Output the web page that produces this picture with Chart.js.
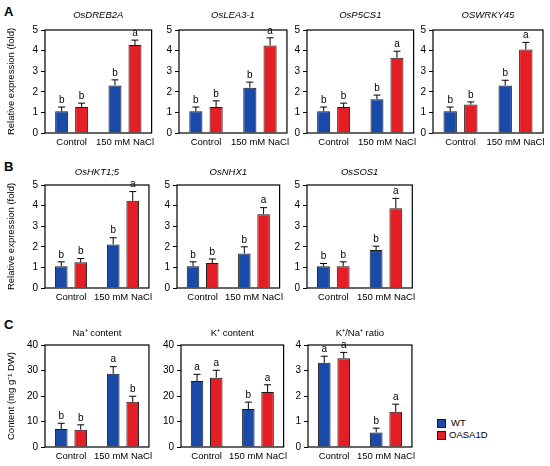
<!DOCTYPE html>
<html><head><meta charset="utf-8">
<script src="https://cdn.jsdelivr.net/npm/chart.js@4"></script>
<style>
body{margin:0;background:#fff;width:550px;height:466px;overflow:hidden;position:relative;font-family:"Liberation Sans",Arial,sans-serif;color:#000}
.cw{position:absolute}
.pl{position:absolute;font-weight:bold;font-size:13px;line-height:13px}
.lg{position:absolute;font-size:9.5px;line-height:10px;white-space:nowrap}
.sw{position:absolute;width:7px;height:7px;border:1px solid #1a1a1a}
</style></head><body>
<div class="pl" style="left:4px;top:5px">A</div>
<div class="pl" style="left:4px;top:160px">B</div>
<div class="pl" style="left:4px;top:318px">C</div>
<div class="sw" style="left:437px;top:419px;background:#1a4aa8"></div>
<div class="lg" style="left:451px;top:418px">WT</div>
<div class="sw" style="left:437px;top:431px;background:#e31e24"></div>
<div class="lg" style="left:449px;top:430px">OASA1D</div>
<script>
const categories = ["Control", "150 mM NaCl"];
const seriesNames = ["WT", "OASA1D"];

// Panel A
const titlesA = ["OsDREB2A", "OsLEA3-1", "OsP5CS1", "OSWRKY45"];
const wtA    = [[1.05, 2.31], [1.05, 2.20], [1.05, 1.64], [1.05, 2.31]];
const wtErrA = [[0.21, 0.27], [0.21, 0.27], [0.21, 0.20], [0.21, 0.25]];
const oxA    = [[1.26, 4.27], [1.26, 4.25], [1.26, 3.65], [1.38, 4.05]];
const oxErrA = [[0.19, 0.24], [0.30, 0.37], [0.19, 0.32], [0.13, 0.35]];
const wtLetA = [["b", "b"], ["b", "b"], ["b", "b"], ["b", "b"]];
const oxLetA = [["b", "a"], ["b", "a"], ["b", "a"], ["b", "a"]];

// Panel B
const titlesB = ["OsHKT1;5", "OsNHX1", "OsSOS1"];
const wtB    = [[1.06, 2.11], [1.06, 1.68], [1.06, 1.84]];
const wtErrB = [[0.21, 0.33], [0.21, 0.32], [0.13, 0.19]];
const oxB    = [[1.25, 4.23], [1.21, 3.58], [1.06, 3.87]];
const oxErrB = [[0.18, 0.45], [0.20, 0.32], [0.21, 0.48]];
const wtLetB = [["b", "b"], ["b", "b"], ["b", "b"]];
const oxLetB = [["b", "a"], ["b", "a"], ["b", "a"]];

// Panel C
const titlesC = ["Na\u207A content", "K\u207A content", "K\u207A/Na\u207A ratio"];
const wtC    = [[7.1, 28.7], [25.9, 14.9], [3.30, 0.57]];
const wtErrC = [[2.2, 2.8], [2.6, 2.7], [0.26, 0.17]];
const oxC    = [[6.8, 17.7], [27.2, 21.6], [3.48, 1.38]];
const oxErrC = [[1.9, 2.2], [2.9, 2.8], [0.23, 0.30]];
const wtLetC = [["b", "a"], ["a", "b"], ["a", "b"]];
const oxLetC = [["b", "b"], ["a", "a"], ["a", "a"]];
const yMaxC  = [40, 40, 4];
const yStepC = [10, 10, 1];

const yTitleAB = "Relative expression (fold)";
const yTitleC  = "Content (mg g\u207B\u00B9 DW)";

// Layout (not data)
const boxesA = [[45,152],[179,287],[307,414],[433,543]];
const boxesB = [[45,150],[177,281],[307,413]];
const boxesC = [[45,150],[181,285],[308,413]];
const rowA = [30,133], rowB = [185,288], rowC = [345,447];

const BLUE = "#1a4aa8", RED = "#e31e24";
const FAM = "'Liberation Sans', Arial, sans-serif";

const framePlugin = {
  id: "frameErr",
  afterDatasetsDraw(chart) {
    const ctx = chart.ctx, ys = chart.scales.y;
    ctx.save();
    chart.data.datasets.forEach((ds, i) => {
      const meta = chart.getDatasetMeta(i);
      meta.data.forEach((el, j) => {
        const v = ds.data[j], e = ds.err[j];
        const yt = ys.getPixelForValue(v + e);
        ctx.strokeStyle = "#000"; ctx.lineWidth = 1;
        ctx.beginPath();
        ctx.moveTo(el.x, el.y); ctx.lineTo(el.x, yt);
        ctx.moveTo(el.x - 3.5, yt); ctx.lineTo(el.x + 3.5, yt);
        ctx.stroke();
        ctx.fillStyle = "#000";
        ctx.font = "10px " + FAM;
        ctx.textAlign = "center"; ctx.textBaseline = "bottom";
        ctx.fillText(ds.letters[j], el.x, yt - 2);
      });
    });
    ctx.restore();
  },
  afterDraw(chart) {
    const ctx = chart.ctx, a = chart.chartArea;
    const o = chart.options.plugins.frameErr;
    ctx.save();
    ctx.strokeStyle = "#000"; ctx.lineWidth = 1.2;
    ctx.strokeRect(a.left, a.top, a.right - a.left, a.bottom - a.top);
    ctx.fillStyle = "#000";
    ctx.font = (o.italic ? "italic " : "") + "9.5px " + FAM;
    ctx.textAlign = "center"; ctx.textBaseline = "middle";
    ctx.fillText(o.title, (a.left + a.right) / 2, a.top - o.titleOff);
    ctx.restore();
  }
};

function makeChart(box, row, axisW, yTitle, title, italic, titleOff, wt, wtErr, ox, oxErr, wtLet, oxLet, yMax, yStep) {
  const padTop = 30, padRight = 8, xH = 22;
  const w = (box[1] - box[0]) + axisW + padRight;
  const h = (row[1] - row[0]) + padTop + xH;
  const div = document.createElement("div");
  div.className = "cw";
  div.style.left = (box[0] - axisW) + "px";
  div.style.top = (row[0] - padTop) + "px";
  div.style.width = w + "px"; div.style.height = h + "px";
  const cv = document.createElement("canvas");
  cv.width = w; cv.height = h;
  cv.style.width = w + "px"; cv.style.height = h + "px";
  div.appendChild(cv);
  document.body.appendChild(div);
  new Chart(cv, {
    type: "bar",
    data: {
      labels: categories,
      datasets: [
        { label: seriesNames[0], data: wt, err: wtErr, letters: wtLet, backgroundColor: BLUE, borderColor: "#1a1a1a", borderWidth: 1, barPercentage: 0.65, categoryPercentage: 0.75 },
        { label: seriesNames[1], data: ox, err: oxErr, letters: oxLet, backgroundColor: RED, borderColor: "#1a1a1a", borderWidth: 1, barPercentage: 0.65, categoryPercentage: 0.75 }
      ]
    },
    options: {
      responsive: false, animation: false,
      layout: { padding: { top: padTop, right: padRight, left: 0, bottom: 0 } },
      plugins: { legend: { display: false }, tooltip: { enabled: false }, title: { display: false },
        frameErr: { title: title, italic: italic, titleOff: titleOff } },
      scales: {
        x: {
          grid: { display: false, drawTicks: false }, border: { display: false },
          ticks: { color: "#000", font: { size: 9.5, family: FAM }, padding: 4, maxRotation: 0, autoSkip: false },
          afterFit: s => { s.height = xH; }
        },
        y: {
          min: 0, max: yMax,
          ticks: { stepSize: yStep, color: "#000", font: { size: 10, family: FAM }, padding: 3 },
          grid: { drawOnChartArea: false, drawTicks: true, tickLength: 4, color: "#000" },
          border: { display: false },
          title: { display: !!yTitle, text: yTitle || "", color: "#000", font: { size: 9.5, family: FAM }, padding: { top: 6, bottom: 0 } },
          afterFit: s => { s.width = axisW; }
        }
      }
    },
    plugins: [framePlugin]
  });
}

titlesA.forEach((t, i) => makeChart(boxesA[i], rowA, i === 0 ? 45 : 22, i === 0 ? yTitleAB : null, t, true, 15, wtA[i], wtErrA[i], oxA[i], oxErrA[i], wtLetA[i], oxLetA[i], 5, 1));
titlesB.forEach((t, i) => makeChart(boxesB[i], rowB, i === 0 ? 45 : 22, i === 0 ? yTitleAB : null, t, true, 13, wtB[i], wtErrB[i], oxB[i], oxErrB[i], wtLetB[i], oxLetB[i], 5, 1));
titlesC.forEach((t, i) => makeChart(boxesC[i], rowC, i === 0 ? 45 : 22, i === 0 ? yTitleC : null, t, false, 12, wtC[i], wtErrC[i], oxC[i], oxErrC[i], wtLetC[i], oxLetC[i], yMaxC[i], yStepC[i]));
</script>
</body></html>
